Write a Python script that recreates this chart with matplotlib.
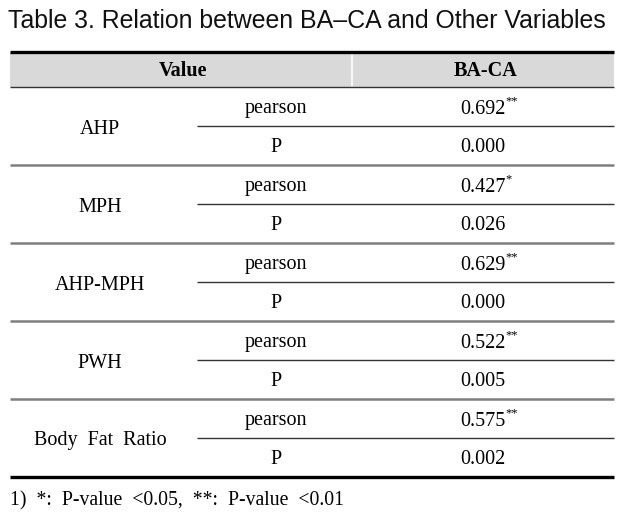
import matplotlib
matplotlib.use("Agg")
import matplotlib.pyplot as plt

title = "Table 3. Relation between BA\u2013CA and Other Variables"
header = ["Value", "BA-CA"]
groups = ["AHP", "MPH", "AHP-MPH", "PWH", "Body  Fat  Ratio"]
sub_labels = ["pearson", "P"]
pearson = ["0.692", "0.427", "0.629", "0.522", "0.575"]
stars = ["**", "*", "**", "**", "**"]
pvals = ["0.000", "0.026", "0.000", "0.005", "0.002"]
footnote = "1)  *:  P-value  <0.05,  **:  P-value  <0.01"

W, H = 634, 519
fig = plt.figure(figsize=(W / 100, H / 100), dpi=100)
ax = fig.add_axes([0, 0, 1, 1])
ax.set_xlim(0, W)
ax.set_ylim(H, 0)
ax.axis("off")

serif = "Liberation Serif"
fs = 14.5

# title
ax.text(8, 21, title, family="Liberation Sans", fontsize=17.9, ha="left", va="center", color="#111111")

x0, x1 = 10, 614
top_line = 52
head_bot = 87
row_h = 78
xsub = 197
xdiv = 352

# header band
ax.fill_between([x0, x1], top_line, head_bot, color="#d9d9d9", lw=0, zorder=0)
ax.plot([xdiv, xdiv], [top_line + 1, head_bot - 1], color="white", lw=1.2)
ax.plot([x0, x1], [top_line, top_line], color="black", lw=2.4, solid_capstyle="butt")
ax.plot([x0, x1], [head_bot, head_bot], color="#333333", lw=1.0, solid_capstyle="butt")
ax.text(183, (top_line + head_bot) / 2 + 2, header[0], family=serif, fontsize=fs, fontweight="bold",
        ha="center", va="center")
ax.text(486, (top_line + head_bot) / 2 + 2, header[1], family=serif, fontsize=fs, fontweight="bold",
        ha="center", va="center")

for i, g in enumerate(groups):
    top = head_bot + row_h * i
    ax.text(100, top + row_h / 2 + 3, g, family=serif, fontsize=fs, ha="center", va="center")
    y1 = top + 22
    y2 = top + 61
    ax.text(276, y1, sub_labels[0], family=serif, fontsize=fs, ha="center", va="center")
    ax.text(276, y2, sub_labels[1], family=serif, fontsize=fs, ha="center", va="center")
    t = ax.text(483, y1, pearson[i], family=serif, fontsize=fs, ha="center", va="center")
    ax.annotate(stars[i], xy=(1, 1), xycoords=t, xytext=(0, 3), textcoords="offset points",
                family=serif, fontsize=9, ha="left", va="top")
    ax.text(483, y2, pvals[i], family=serif, fontsize=fs, ha="center", va="center")
    ax.plot([xsub, x1], [top + 39, top + 39], color="#333333", lw=1.0, solid_capstyle="butt")
    if i < len(groups) - 1:
        ax.plot([x0, x1], [top + row_h, top + row_h], color="#7f7f7f", lw=1.8, solid_capstyle="butt")

bot = head_bot + row_h * len(groups)
ax.plot([x0, x1], [bot, bot], color="black", lw=2.4, solid_capstyle="butt")

ax.text(10, 501, footnote, family=serif, fontsize=14.2, ha="left", va="center")

fig.savefig("out.png", dpi=100)
